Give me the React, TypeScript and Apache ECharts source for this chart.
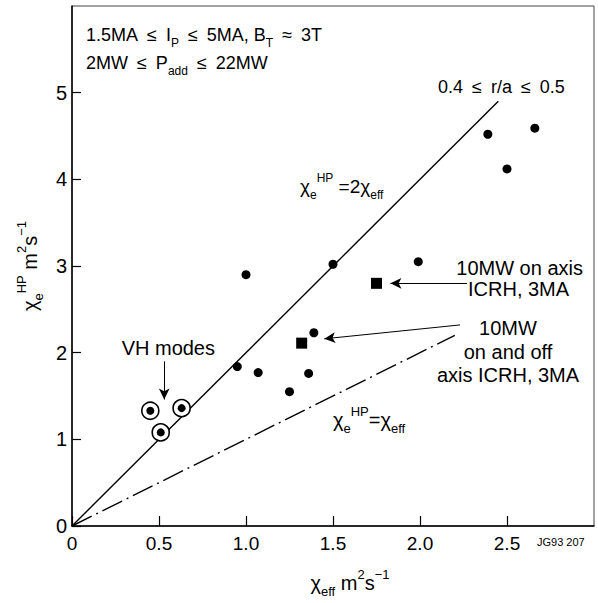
import React, { useEffect, useRef } from "react";
import * as echarts from "echarts";

// χ_eff (x) vs χ_e^HP (y), m^2 s^-1
const blackDots: number[][] = [
  [1.0, 2.9], [1.5, 3.02], [1.99, 3.05], [2.39, 4.52], [2.66, 4.59], [2.5, 4.12],
  [0.95, 1.84], [1.07, 1.77], [1.36, 1.76], [1.25, 1.55], [1.39, 2.23],
];
const icrhSquares: number[][] = [[1.75, 2.8], [1.32, 2.11]];
const vhModes: number[][] = [[0.45, 1.33], [0.63, 1.36], [0.51, 1.08]];
const lineTwoChi: number[][] = [[0, 0], [2.45, 4.9]];
const lineOneChi: number[][] = [[0, 0], [2.2, 2.2]];
const arrowLines: number[][][] = [
  [[0.53, 1.9], [0.53, 1.46]],
  [[2.27, 2.8], [1.83, 2.8]],
  [[2.23, 2.32], [1.45, 2.16]],
];

const FONT = "'Liberation Sans', Arial, Helvetica, sans-serif";
const EN = "\u2002";

const zrRich = (size: number) => ({
  b: { fontSize: size, fontFamily: FONT, fill: "#000", lineHeight: size + 10 },
  sub: { fontSize: Math.round(size * 0.65), fontFamily: FONT, fill: "#000", verticalAlign: "bottom", lineHeight: Math.round(size * 0.7) },
  sup: { fontSize: Math.round(size * 0.65), fontFamily: FONT, fill: "#000", verticalAlign: "top", lineHeight: Math.round(size * 0.7) },
});
const ecRich = (size: number) => ({
  b: { fontSize: size, fontFamily: FONT, color: "#000", lineHeight: size + 10 },
  sub: { fontSize: Math.round(size * 0.65), fontFamily: FONT, color: "#000", verticalAlign: "bottom", lineHeight: Math.round(size * 0.7) },
  sup: { fontSize: Math.round(size * 0.65), fontFamily: FONT, color: "#000", verticalAlign: "top", lineHeight: Math.round(size * 0.7) },
});

const txt = (text: string, x: number, y: number, size = 16, align = "left") => ({
  type: "text",
  x,
  y,
  silent: true,
  style: {
    text,
    rich: zrRich(size),
    fontSize: size,
    fontFamily: FONT,
    fill: "#000",
    align,
    textAlign: align,
    verticalAlign: "middle",
    textVerticalAlign: "middle",
  },
});

export default function App() {
  const ref = useRef<HTMLDivElement>(null);
  useEffect(() => {
    if (!ref.current) return;
    const chart = echarts.init(ref.current, null, { renderer: "svg" });
    chart.setOption({
      animation: false,
      backgroundColor: "#fff",
      grid: { left: 72, right: 4, top: 6, bottom: 69, show: true, borderColor: "#444", borderWidth: 1 },
      xAxis: {
        type: "value",
        min: 0,
        max: 3,
        interval: 0.5,
        axisLine: { show: true, onZero: false, lineStyle: { color: "#000", width: 1.5 } },
        axisTick: { show: true, inside: true, length: 10, lineStyle: { color: "#000", width: 1.2 } },
        axisLabel: {
          color: "#000",
          fontSize: 19,
          fontFamily: FONT,
          margin: 8,
          showMaxLabel: false,
          formatter: (v: number) => (v === 0 ? "0" : v.toFixed(1)),
        },
        splitLine: { show: false },
        name: "{b|χ}{sub|eff}{b| m}{sup|2}{b|s}{sup|−1}",
        nameLocation: "middle",
        nameGap: 42,
        nameTextStyle: { rich: ecRich(20), padding: [0, 0, 0, 34] },
      },
      yAxis: {
        type: "value",
        min: 0,
        max: 6,
        interval: 1,
        axisLine: { show: true, onZero: false, lineStyle: { color: "#000", width: 1.5 } },
        axisTick: { show: true, inside: true, length: 9, lineStyle: { color: "#000", width: 1.2 } },
        axisLabel: { color: "#000", fontSize: 20, fontFamily: FONT, margin: 5, showMaxLabel: false },
        splitLine: { show: false },
        name: "{b|χ}{sub|e}{sup|HP}{b| m}{sup|2}{b|s}{sup|−1}",
        nameLocation: "middle",
        nameRotate: 90,
        nameGap: 26,
        nameTextStyle: { rich: ecRich(20) },
      },
      series: [
        {
          type: "line",
          data: lineTwoChi,
          showSymbol: false,
          lineStyle: { color: "#000", width: 1.4 },
          silent: true,
          z: 1,
        },
        {
          type: "line",
          data: lineOneChi,
          showSymbol: false,
          lineStyle: { color: "#000", width: 1.4, type: [22, 5, 2, 5] },
          silent: true,
          z: 1,
          markLine: {
            silent: true,
            symbol: ["none", "arrow"],
            symbolSize: [8, 11],
            label: { show: false },
            lineStyle: { color: "#000", width: 1, type: "solid" },
            data: arrowLines.map((a) => [{ coord: a[0] }, { coord: a[1] }]),
          },
        },
        {
          type: "scatter",
          data: vhModes,
          symbol: "circle",
          symbolSize: 17,
          itemStyle: { color: "#fff", borderColor: "#000", borderWidth: 1.6, opacity: 1 },
          z: 3,
        },
        {
          type: "scatter",
          data: vhModes,
          symbol: "circle",
          symbolSize: 8,
          itemStyle: { color: "#000", opacity: 1 },
          z: 4,
        },
        {
          type: "scatter",
          data: blackDots,
          symbol: "circle",
          symbolSize: 9,
          itemStyle: { color: "#000", opacity: 1 },
          z: 4,
        },
        {
          type: "scatter",
          data: icrhSquares,
          symbol: "rect",
          symbolSize: 11,
          itemStyle: { color: "#000", opacity: 1 },
          z: 4,
        },
      ],
      graphic: [
        txt(`{b|1.5MA${EN}≤${EN}I}{sub|P}{b|${EN}≤${EN}5MA, B}{sub|T}{b|${EN}≈${EN}3T}`, 86, 35, 18),
        txt(`{b|2MW${EN}≤${EN}P}{sub|add}{b|${EN}≤${EN}22MW}`, 86, 63, 18),
        txt(`{b|0.4${EN}≤${EN}r/a${EN}≤${EN}0.5}`, 438, 87, 18),
        txt("{b|χ}{sub|e}{sup|HP}{b| =2χ}{sub|eff}", 300, 186, 19),
        txt("{b|10MW on axis}", 583, 268, 20, "right"),
        txt("{b|ICRH, 3MA}", 468, 289, 20),
        txt("{b|10MW}", 508, 328, 20, "center"),
        txt("{b|on and off}", 508, 352, 20, "center"),
        txt("{b|axis ICRH, 3MA}", 508, 375, 20, "center"),
        txt("{b|χ}{sub|e}{sup|HP}{b|=χ}{sub|eff}", 333, 420, 20),
        txt("{b|VH modes}", 215, 348, 20, "right"),
        {
          type: "text",
          x: 537,
          y: 542,
          silent: true,
          style: { text: "JG93 207", fontSize: 11, fontFamily: FONT, fill: "#000", align: "left", verticalAlign: "middle" },
        },
      ],
    });
    return () => chart.dispose();
  }, []);
  return (
    <div
      ref={ref}
      style={{ position: "absolute", left: 0, top: 0, width: 598, height: 603, background: "#fff" }}
    />
  );
}
